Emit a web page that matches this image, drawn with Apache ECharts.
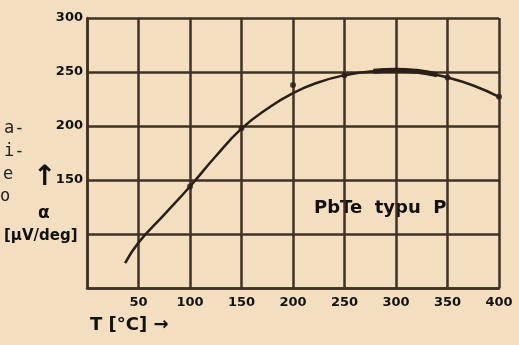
<!DOCTYPE html>
<html><head><meta charset="utf-8">
<script src="https://cdn.jsdelivr.net/npm/echarts@6/dist/echarts.min.js"></script>
<style>html,body{margin:0;padding:0;background:#f3dfbf;}#c{width:519px;height:345px;}</style>
</head><body><div id="c"></div>
<script>
// Temperature T [°C] vs Seebeck coefficient alpha [µV/deg]
const xTicks = [50, 100, 150, 200, 250, 300, 350, 400];
const yTicks = [150, 200, 250, 300];
const curveT = [37, 50, 75, 100, 125, 150, 175, 200, 225, 250, 275, 300, 325, 350, 375, 400];
const curveA = [73, 92, 118, 144, 172, 197.5, 216, 230.5, 240.5, 247, 250.5, 251.5, 249.8, 245, 237.5, 227];
const thickT = [278, 300, 320, 340];
const thickA = [250.8, 251.7, 250.6, 247.5];
const dotT = [100, 150, 200, 250, 350, 400];
const dotA = [144, 198, 238, 247, 245, 227];

const ink = '#3f3125';
const chart = echarts.init(document.getElementById('c'));
const zip = (a, b) => a.map((v, i) => [v, b[i]]);
chart.setOption({
  backgroundColor: '#f3dfbf',
  animation: false,
  grid: { left: 87, top: 18, right: 20, bottom: 57 },
  xAxis: {
    type: 'value', min: 0, max: 400, interval: 50,
    axisLine: { show: true, lineStyle: { color: ink, width: 2.5 } },
    axisTick: { show: false },
    splitLine: { show: true, lineStyle: { color: ink, width: 2.5 } },
    axisLabel: {
      margin: 8, color: '#111', fontFamily: 'DejaVu Sans', fontWeight: 'bold', fontSize: 13,
      formatter: v => xTicks.includes(v) ? String(v) : ''
    }
  },
  yAxis: {
    type: 'value', min: 50, max: 300, interval: 50,
    axisLine: { show: true, lineStyle: { color: ink, width: 2.5 } },
    axisTick: { show: false },
    splitLine: { show: true, lineStyle: { color: ink, width: 2.5 } },
    axisLabel: {
      margin: 4, color: '#111', fontFamily: 'DejaVu Sans', fontWeight: 'bold', fontSize: 13,
      formatter: v => yTicks.includes(v) ? String(v) : ''
    }
  },
  series: [
    { type: 'line', smooth: 0.5, symbol: 'none', data: zip(curveT, curveA),
      lineStyle: { color: '#2a2018', width: 2.5 } },
    { type: 'line', smooth: 0.5, symbol: 'none', data: zip(thickT, thickA),
      lineStyle: { color: '#2a2018', width: 5 } },
    { type: 'scatter', symbolSize: 6, data: zip(dotT, dotA),
      itemStyle: { color: '#2a2018' } }
  ],
  graphic: [
    { type: 'text', left: 4, top: 120, style: { text: 'a-', font: '17px "DejaVu Sans Mono"', fill: '#222' } },
    { type: 'text', left: 4, top: 143, style: { text: 'i-', font: '17px "DejaVu Sans Mono"', fill: '#222' } },
    { type: 'text', left: 3, top: 166, style: { text: 'e', font: '17px "DejaVu Sans Mono"', fill: '#222' } },
    { type: 'text', left: 0, top: 188, style: { text: 'o', font: '17px "DejaVu Sans Mono"', fill: '#222' } },
    { type: 'text', left: 33, top: 164, style: { text: '↑', font: 'bold 28px "DejaVu Sans"', fill: '#111' } },
    { type: 'text', left: 38, top: 205, style: { text: 'α', font: 'bold 17px "DejaVu Sans"', fill: '#111' } },
    { type: 'text', left: 4, top: 229, style: { text: '[μV/deg]', font: 'bold 15px "DejaVu Sans"', fill: '#111' } },
    { type: 'text', left: 90, top: 316, style: { text: 'T [°C] →', font: 'bold 18px "DejaVu Sans"', fill: '#111' } },
    { type: 'text', left: 314, top: 199, style: { text: 'PbTe  typu  P', font: 'bold 18px "DejaVu Sans"', fill: '#111' } }
  ]
});
</script></body></html>
